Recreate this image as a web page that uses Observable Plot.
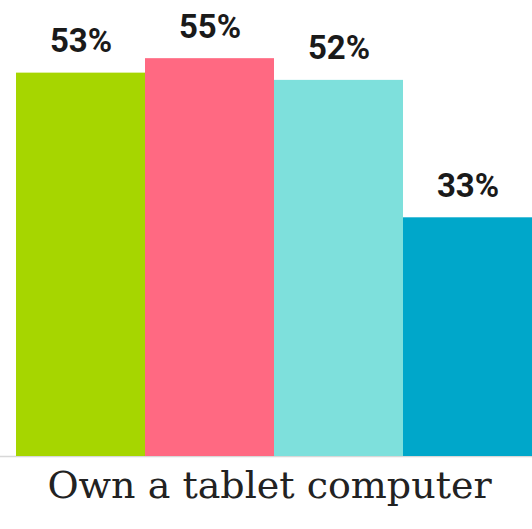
<!DOCTYPE html>
<html>
<head>
<meta charset="utf-8">
<script src="https://cdn.jsdelivr.net/npm/d3@7"></script>
<script src="https://cdn.jsdelivr.net/npm/@observablehq/plot@0.6"></script>
<style>
  html, body { margin: 0; padding: 0; background: #fff; }
  #chart svg { display: block; }
</style>
</head>
<body>
<div id="chart"></div>
<script>
const groups = ["Group 1", "Group 2", "Group 3", "Group 4"];
const values = [53, 55, 52, 33];
const valueLabels = ["53%", "55%", "52%", "33%"];
const colors = ["#a6d600", "#ff6982", "#7ee0dc", "#00a7ca"];
const categoryLabel = "Own a tablet computer";

const data = groups.map((g, i) => ({group: g, value: values[i], label: valueLabels[i]}));

const chart = Plot.plot({
  width: 532,
  height: 529,
  marginLeft: 0,
  marginRight: 0,
  marginTop: 22,
  marginBottom: 73,
  x: {domain: groups, range: [15, 532], padding: 0, axis: null},
  y: {domain: [0, 60], axis: null},
  color: {domain: groups, range: colors},
  marks: [
    Plot.ruleY([0], {stroke: "#d8d8d8", strokeWidth: 1.5}),
    Plot.barY(data, {x: "group", y: "value", fill: "group"}),
    Plot.text(data, {
      x: "group", y: "value", text: "label",
      lineAnchor: "bottom", dy: -21,
      fontFamily: "Roboto", fontWeight: "bold", fontSize: 33, fill: "#1a1a1a"
    }),
    Plot.text([categoryLabel], {
      frameAnchor: "bottom", lineAnchor: "bottom", dy: 41, dx: 3,
      fontFamily: "DejaVu Serif", fontSize: 38, fill: "#222"
    })
  ]
});
document.getElementById("chart").append(chart);
</script>
</body>
</html>
